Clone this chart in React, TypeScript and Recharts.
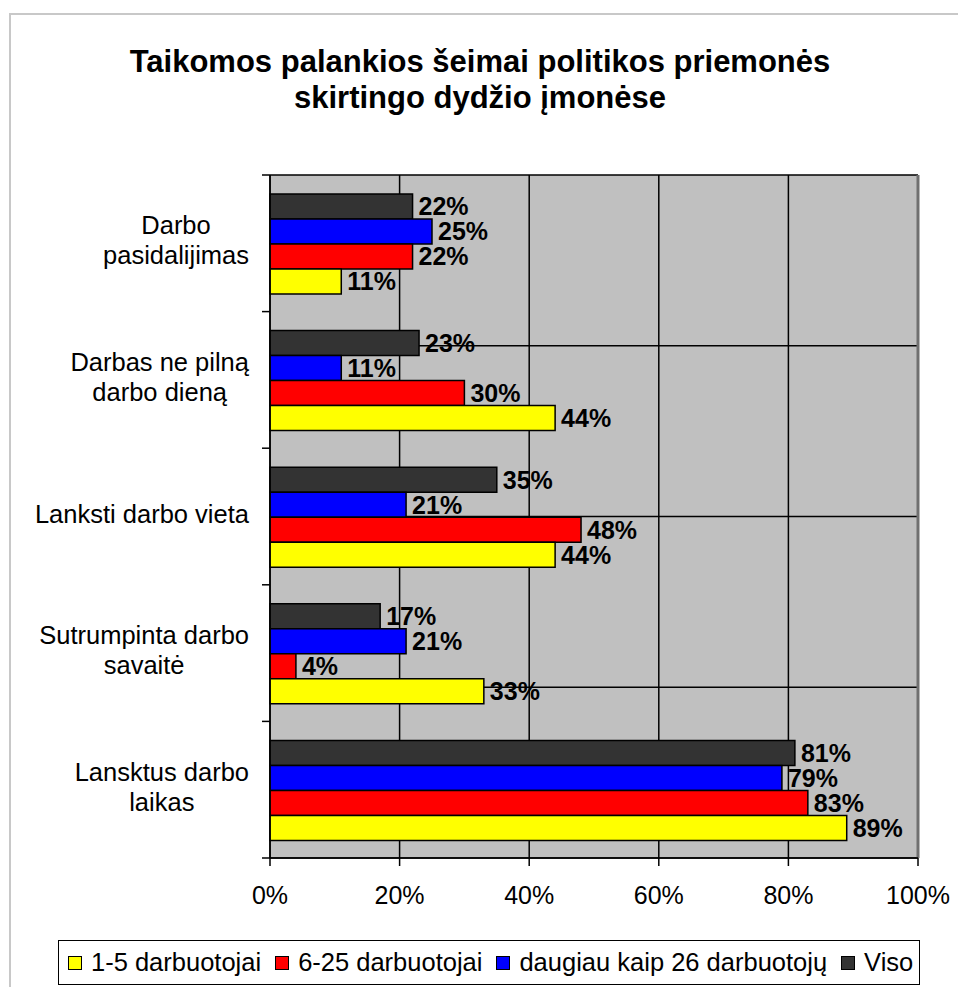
import {
  Bar,
  BarChart,
  CartesianGrid,
  LabelList,
  ReferenceLine,
  XAxis,
  YAxis,
} from "recharts";

const FONT = "'Liberation Sans', Arial, sans-serif";

const TITLE_LINES = [
  "Taikomos palankios šeimai politikos priemonės",
  "skirtingo dydžio įmonėse",
];

// category labels, "\n" marks the line break used in the axis
const categories = [
  "Darbo\npasidalijimas",
  "Darbas ne pilną\ndarbo dieną",
  "Lanksti darbo vieta",
  "Sutrumpinta darbo\nsavaitė",
  "Lansktus darbo\nlaikas",
];

const smallFirms = [11, 44, 44, 33, 89]; // 1-5 darbuotojai
const mediumFirms = [22, 30, 48, 4, 83]; // 6-25 darbuotojai
const largeFirms = [25, 11, 21, 21, 79]; // daugiau kaip 26 darbuotojų
const allFirms = [22, 23, 35, 17, 81]; // Viso

const xTicks = [0, 20, 40, 60, 80, 100];
const bandTicks = [0, 1, 2, 3, 4, 5];

// legend order (bars are drawn in reverse so "Viso" sits on top of each group)
const SERIES = [
  { key: "small", name: "1-5 darbuotojai", color: "#ffff00" },
  { key: "medium", name: "6-25 darbuotojai", color: "#ff0000" },
  { key: "large", name: "daugiau kaip 26 darbuotojų", color: "#0000ff" },
  { key: "all", name: "Viso", color: "#333333" },
];

const data = categories.map((name, i) => ({
  name,
  small: smallFirms[i],
  medium: mediumFirms[i],
  large: largeFirms[i],
  all: allFirms[i],
}));

let measureCtx: CanvasRenderingContext2D | null = null;
function textWidth(text: string, font: string) {
  if (!measureCtx) measureCtx = document.createElement("canvas").getContext("2d");
  if (!measureCtx) return text.length * 12;
  measureCtx.font = font;
  return measureCtx.measureText(text).width;
}

function CategoryTick(props: any) {
  const { x, y, payload, index } = props;
  const lines = String(payload.value).split("\n");
  const maxW = Math.max(...lines.map((l) => textWidth(l, `25.5px ${FONT}`)));
  const cx = x - 21 - maxW / 2;
  const half = payload.offset ?? 0;
  return (
    <g>
      <line x1={x - 8} x2={x} y1={y - half} y2={y - half} stroke="#000" strokeWidth={1.5} />
      {index === categories.length - 1 && (
        <line x1={x - 8} x2={x} y1={y + half} y2={y + half} stroke="#000" strokeWidth={1.5} />
      )}
      <text textAnchor="middle" fontSize={25.5} fontFamily={FONT} fill="#000">
        {lines.map((l, i) => (
          <tspan key={i} x={cx} y={y + 6 + (i - (lines.length - 1) / 2) * 30}>
            {l}
          </tspan>
        ))}
      </text>
    </g>
  );
}

export default function App() {
  const drawOrder = [...SERIES].reverse();
  return (
    <div
      style={{
        position: "absolute",
        left: 0,
        top: 0,
        width: 958,
        height: 987,
        background: "#fff",
        overflow: "hidden",
        fontFamily: FONT,
      }}
    >
      <div
        style={{
          position: "absolute",
          left: 9,
          top: 13,
          right: -10,
          bottom: -10,
          borderTop: "2px solid #c8c8c8",
          borderLeft: "2px solid #c8c8c8",
        }}
      />
      <div
        style={{
          position: "absolute",
          left: 0,
          top: 44,
          width: 960,
          textAlign: "center",
          fontSize: 31,
          fontWeight: "bold",
          lineHeight: "36px",
          color: "#000",
        }}
      >
        {TITLE_LINES.map((t) => (
          <div key={t}>{t}</div>
        ))}
      </div>

      <BarChart
        width={958}
        height={987}
        data={data}
        layout="vertical"
        margin={{ top: 175, right: 40, bottom: 79, left: 0 }}
        barCategoryGap={19}
        barGap={0}
        style={{ position: "absolute", left: 0, top: 0, fontFamily: FONT }}
      >
        <CartesianGrid
          yAxisId="grid"
          fill="#c0c0c0"
          fillOpacity={1}
          stroke="#000"
          strokeWidth={1.5}
        />
        <XAxis
          type="number"
          domain={[0, 100]}
          ticks={xTicks}
          tickFormatter={(v) => `${v}%`}
          height={50}
          tickSize={8}
          tickMargin={20}
          axisLine={{ stroke: "#000", strokeWidth: 1.5 }}
          tickLine={{ stroke: "#000", strokeWidth: 1.5 }}
          tick={{ fill: "#000", fontSize: 25, fontFamily: FONT }}
        />
        <YAxis
          yAxisId="cat"
          type="category"
          dataKey="name"
          width={270}
          interval={0}
          tickSize={0}
          tickMargin={0}
          tickLine={false}
          axisLine={{ stroke: "#000", strokeWidth: 1.5 }}
          tick={<CategoryTick />}
        />
        <YAxis yAxisId="grid" type="number" domain={[0, 5]} ticks={bandTicks} hide />
        <ReferenceLine yAxisId="grid" y={5} stroke="#707070" strokeWidth={3} />
        <ReferenceLine yAxisId="grid" x={100} stroke="#707070" strokeWidth={3} />
        {drawOrder.map((s) => (
          <Bar
            key={s.key}
            yAxisId="cat"
            dataKey={s.key}
            name={s.name}
            fill={s.color}
            stroke="#000"
            strokeWidth={1.5}
            isAnimationActive={false}
          >
            <LabelList
              dataKey={s.key}
              position="right"
              offset={6}
              formatter={(v: any) => `${v}%`}
              fill="#000"
              fontSize={25}
              fontWeight="bold"
              fontFamily={FONT}
            />
          </Bar>
        ))}
      </BarChart>

      <div
        style={{
          position: "absolute",
          left: 58,
          top: 940,
          width: 862,
          height: 45,
          boxSizing: "border-box",
          border: "1.5px solid #000",
          background: "#fff",
          display: "flex",
          alignItems: "center",
          paddingLeft: 9,
          gap: 14,
          fontSize: 25.5,
          color: "#000",
          whiteSpace: "nowrap",
        }}
      >
        {SERIES.map((s) => (
          <div key={s.key} style={{ display: "flex", alignItems: "center" }}>
            <span
              style={{
                display: "inline-block",
                width: 14,
                height: 14,
                boxSizing: "border-box",
                border: "1.5px solid #000",
                background: s.color,
                marginRight: 9,
              }}
            />
            <span>{s.name}</span>
          </div>
        ))}
      </div>
    </div>
  );
}
